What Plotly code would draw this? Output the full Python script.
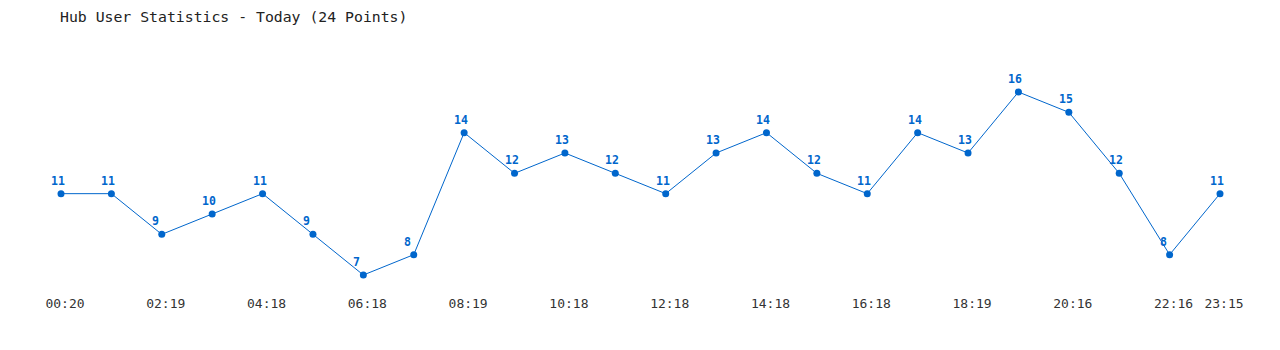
import plotly.graph_objects as go

# Data
point_index = list(range(24))
users = [11, 11, 9, 10, 11, 9, 7, 8, 14, 12, 13, 12, 11, 13, 14, 12, 11, 14, 13, 16, 15, 12, 8, 11]
tick_positions = [0, 2, 4, 6, 8, 10, 12, 14, 16, 18, 20, 22, 23]
tick_labels = ["00:20", "02:19", "04:18", "06:18", "08:19", "10:18", "12:18",
               "14:18", "16:18", "18:19", "20:16", "22:16", "23:15"]
title_text = "Hub User Statistics - Today (24 Points)"

BLUE = "#0066CC"
MONO = "DejaVu Sans Mono"

fig = go.Figure()
fig.add_trace(go.Scatter(
    x=point_index, y=users, mode="lines+markers",
    line=dict(color=BLUE, width=1),
    marker=dict(color=BLUE, size=7),
    cliponaxis=False, hoverinfo="skip", showlegend=False,
))

for xi, v in zip(point_index, users):
    fig.add_annotation(
        x=xi, y=v, text=f"<b>{v}</b>", showarrow=False,
        xanchor="left", yanchor="middle", xshift=-12, yshift=13,
        font=dict(family=MONO, size=11.5, color=BLUE),
    )

fig.update_layout(
    width=1280, height=350,
    margin=dict(l=61, r=60, t=92, b=75),
    paper_bgcolor="white", plot_bgcolor="white",
    title=dict(text=title_text, x=0, xref="paper", xanchor="left",
               y=1, yref="container", yanchor="top",
               pad=dict(t=12, l=-1),
               font=dict(family=MONO, size=14.8, color="#222222")),
    xaxis=dict(range=[0, 23], showgrid=False, zeroline=False, showline=False,
               tickmode="array", tickvals=tick_positions, ticktext=tick_labels,
               ticks="", ticklabelstandoff=19, ticklabelshift=4,
               tickfont=dict(family=MONO, size=13, color="#333333")),
    yaxis=dict(range=[7, 16], showgrid=False, zeroline=False, showline=False,
               showticklabels=False, ticks=""),
)

fig.write_html("out.html")
